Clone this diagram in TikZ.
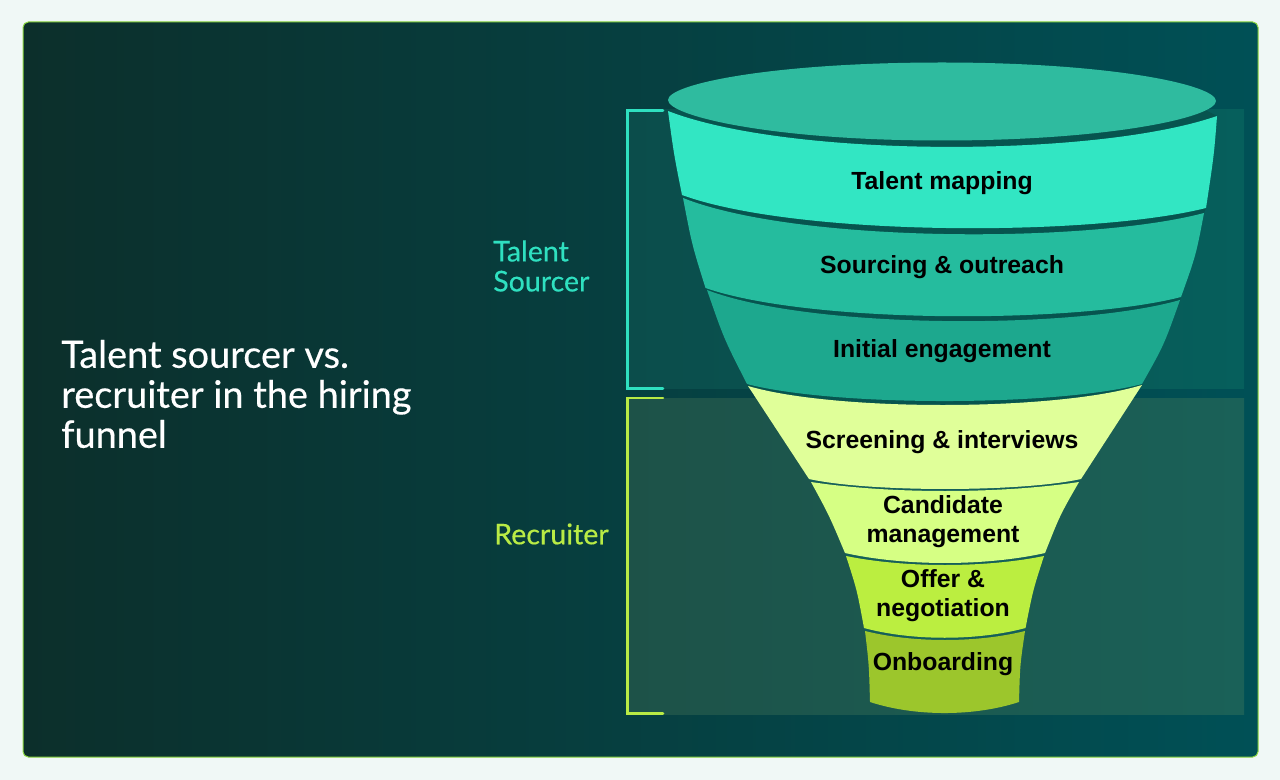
\documentclass[tikz,border=0pt]{standalone}
\usepackage{fontspec}
\setmainfont{Liberation Sans}
\newfontfamily\headfont[RawFeature={embolden=0.4}]{Lato}
\definecolor{pagebg}{HTML}{F0F8F6}
\definecolor{panelL}{HTML}{0C2F2B}
\definecolor{panelR}{HTML}{005056}
\definecolor{panelB}{HTML}{8BD640}
\definecolor{upL}{HTML}{0B4D4B}
\definecolor{upR}{HTML}{065F5C}
\definecolor{loL}{HTML}{1D5248}
\definecolor{loR}{HTML}{1A6158}
\definecolor{tealB}{HTML}{2FE0C0}
\definecolor{limeB}{HTML}{B9EB45}
\definecolor{rim}{HTML}{2FBB9F}
\definecolor{gap}{HTML}{07544F}
\definecolor{gapL}{HTML}{155F5A}
\definecolor{bA}{HTML}{32E6C3}
\definecolor{bB}{HTML}{25BC9E}
\definecolor{bC}{HTML}{1DA88E}
\definecolor{bD}{HTML}{E0FF99}
\definecolor{bE}{HTML}{D6FF84}
\definecolor{bF}{HTML}{BBEE40}
\definecolor{bG}{HTML}{9CC62C}
\tikzset{
  x=0.75pt,y=-0.75pt,
  bandlabel/.style={font=\fontsize{18.6}{21.8}\selectfont\bfseries,text=black,align=center,inner sep=0pt},
  sidelabel/.style={font=\headfont\fontsize{21.4}{22.5}\selectfont,align=left,anchor=west,inner sep=0pt},
  titlelabel/.style={font=\headfont\fontsize{28.4}{30}\selectfont,text=white,align=left,anchor=west,inner sep=0pt},
  bracket/.style={line width=1.9pt,line cap=round},
}
\begin{document}
\begin{tikzpicture}
\useasboundingbox (0,0) rectangle (1280,780);
\fill[pagebg] (0,0) rectangle (1280,780);
% panel
\shade[left color=panelL,right color=panelR,rounded corners=4pt] (23,22) rectangle (1258,757);
\draw[panelB,line width=0.75pt,rounded corners=4pt] (23,22) rectangle (1258,757);
% overlays
\shade[left color=upL,right color=upR] (628,110) rectangle (1244,388);
\shade[left color=loL,right color=loR] (628,398) rectangle (1244,714);
% brackets
\draw[bracket,tealB] (663,110.5) -- (627.3,110.5) -- (627.3,388.5) -- (663,388.5);
\draw[bracket,limeB] (663,398) -- (627.3,398) -- (627.3,713.5) -- (663,713.5);
% dark gaps between the funnel bands
\fill[gap] (680,110) -- (668,111) .. controls (789,158) and (1096,158) .. (1217,116) -- (1205,110) -- cycle;
\fill[gap] (682,195) -- (683,198) .. controls (798,243.5) and (1089,243.5) .. (1204,213) -- (1206,208) -- cycle;
\fill[gap] (705.5,288) -- (707,290) .. controls (811,329.7) and (1076,329.7) .. (1180,300) -- (1181,297) -- cycle;
\fill[gap] (747,384) -- (748,386) .. controls (835,411.5) and (1055,411.5) .. (1142,385) -- (1142,384) -- cycle;
\fill[gapL] (809,479) -- (811,482) .. controls (891,494) and (999,494) .. (1079,482) -- (1081,479) -- cycle;
\fill[gapL] (845,553) -- (846,556) .. controls (905,568) and (985,568) .. (1044,556) -- (1045,553) -- cycle;
\fill[gapL] (864,628) -- (865,631) .. controls (913,643) and (977,643) .. (1025,631) -- (1025.5,628) -- cycle;
% bands
\fill[bA] (668,111) .. controls (789,158) and (1096,158) .. (1217,116)
  .. controls (1214,155) .. (1206,208)
  .. controls (1091,236.8) and (797,236.8) .. (682,195)
  .. controls (674,155) .. cycle;
\fill[bB] (683,198) .. controls (798,243.5) and (1089,243.5) .. (1204,213)
  .. controls (1196,255) .. (1181,297)
  .. controls (1076,324) and (810,324) .. (705.5,288)
  .. controls (692,245) .. cycle;
\fill[bC] (707,290) .. controls (811,329.7) and (1076,329.7) .. (1180,300)
  .. controls (1164,345) .. (1142,384)
  .. controls (1055,406.7) and (834,406.7) .. (747,384)
  .. controls (724,339) .. cycle;
\fill[bD] (748,386) .. controls (835,411.5) and (1055,411.5) .. (1142,385)
  .. controls (1112,432) .. (1081,479)
  .. controls (1021,492.3) and (869,492.3) .. (809,479)
  .. controls (778,432) .. cycle;
\fill[bE] (811,482) .. controls (891,494) and (999,494) .. (1079,482)
  .. controls (1060,515) .. (1045,553)
  .. controls (985,566.3) and (905,566.3) .. (845,553)
  .. controls (829,515) .. cycle;
\fill[bF] (846,556) .. controls (905,568) and (985,568) .. (1044,556)
  .. controls (1033,590) .. (1025.5,628)
  .. controls (977,641) and (912,641) .. (864,628)
  .. controls (857,590) .. cycle;
\fill[bG] (865,631) .. controls (913,643) and (977,643) .. (1025,631)
  .. controls (1020,665) .. (1019,702)
  .. controls (974,716.7) and (915,716.7) .. (870,702)
  .. controls (869,665) .. cycle;
% funnel mouth
\fill[rim] (668,100) .. controls (668,84) and (772,62.5) .. (942,62.5)
  .. controls (1112,62.5) and (1216,85) .. (1216,101)
  .. controls (1216,117) and (1112,140.5) .. (942,140.5)
  .. controls (772,140.5) and (668,116) .. cycle;
% band labels
\node[bandlabel] (talentmapping) at (942,183) {Talent mapping};
\node[bandlabel] (sourcing) at (942,267) {Sourcing \& outreach};
\node[bandlabel] (engagement) at (942,351) {Initial engagement};
\node[bandlabel] (screening) at (942,442) {Screening \& interviews};
\node[bandlabel] (candidate) at (943,522) {Candidate\\management};
\node[bandlabel] (offer) at (943,596) {Offer \&\\negotiation};
\node[bandlabel] (onboarding) at (943,664) {Onboarding};
% side labels
\node[sidelabel,text=tealB] (sourcer) at (493,266) {Talent\\Sourcer};
\node[sidelabel,text=limeB] (recruiter) at (494,534) {Recruiter};
% title
\node[titlelabel] (title) at (61,394) {Talent sourcer vs.\\recruiter in the hiring\\funnel};
\end{tikzpicture}
\end{document}
